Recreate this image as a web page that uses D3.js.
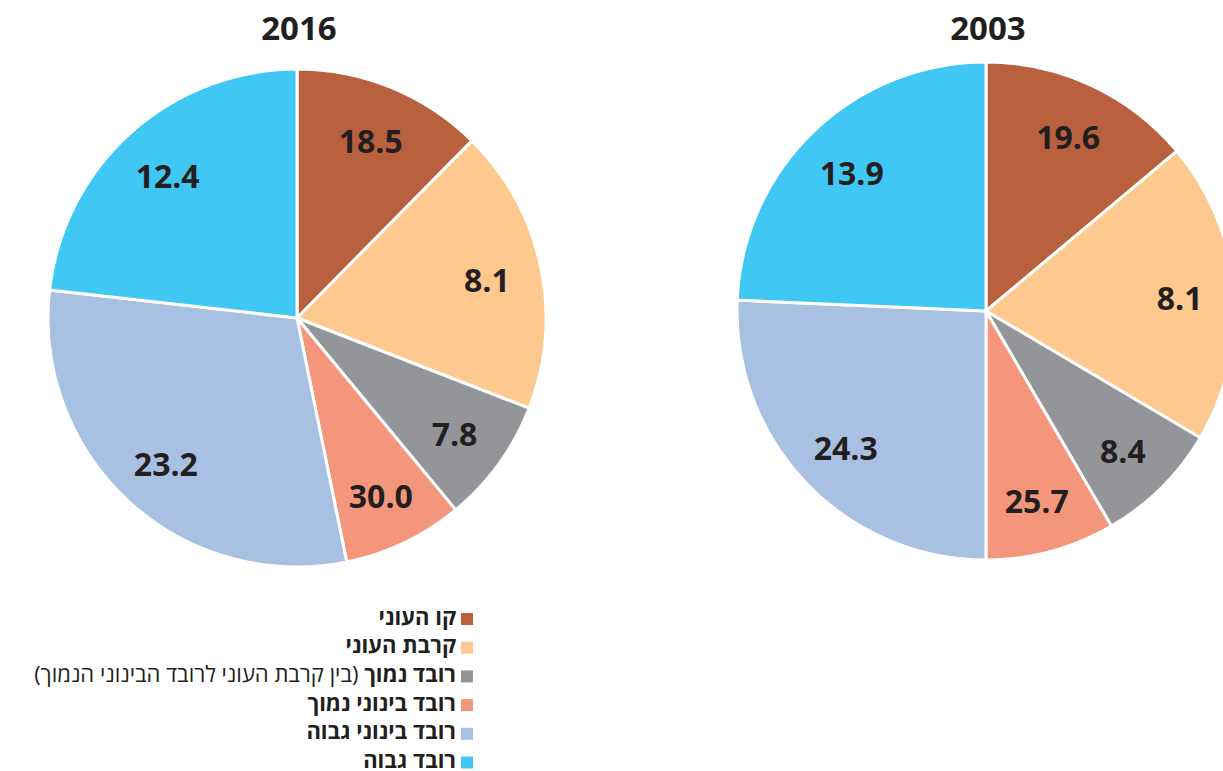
<!DOCTYPE html>
<html>
<head>
<meta charset="utf-8">
<script src="https://cdn.jsdelivr.net/npm/d3@7"></script>
<style>
  body { margin: 0; background: #fff; }
  svg { display: block; font-family: "Open Sans", "DejaVu Sans", sans-serif; }
</style>
</head>
<body>
<svg width="1223" height="771"></svg>
<script>
// slice order, clockwise from 12 o'clock
const categories = ['קו העוני', 'קרבת העוני', 'רובד נמוך', 'רובד בינוני נמוך', 'רובד בינוני גבוה', 'רובד גבוה'];
const colors = ['#b9613f', '#fec98f', '#949599', '#f4967b', '#a8c0e2', '#40c7f4'];
const years = ['2016', '2003'];
const values2016 = [12.4, 18.5, 8.1, 7.8, 30.0, 23.2];
const values2003 = [13.9, 19.6, 8.1, 8.4, 25.7, 24.3];
// the source prints each slice with the next slice's value
const labelShift = 1;
const legendNote = '(בין קרבת העוני לרובד הבינוני הנמוך)';

const svg = d3.select('svg');
const radius = 249;

const pie = d3.pie().sort(null).value(d => d);
const arc = d3.arc().innerRadius(0).outerRadius(radius);
const labelArc = d3.arc().innerRadius(radius * 0.78).outerRadius(radius * 0.78);

function drawPie(values, year, cx, cy) {
  const g = svg.append('g').attr('transform', `translate(${cx},${cy})`);
  const arcs = pie(values);

  g.selectAll('path')
    .data(arcs)
    .join('path')
      .attr('d', arc)
      .attr('fill', (d, i) => colors[i])
      .attr('stroke', '#fff')
      .attr('stroke-width', 3)
      .attr('stroke-linejoin', 'round');

  g.selectAll('text.val')
    .data(arcs)
    .join('text')
      .attr('class', 'val')
      .attr('transform', d => `translate(${labelArc.centroid(d)})`)
      .attr('text-anchor', 'middle')
      .attr('dy', '0.45em')
      .attr('font-size', 32)
      .attr('font-weight', 700)
      .attr('fill', '#231f20')
      .text((d, i) => values[(i + labelShift) % values.length].toFixed(1));

  svg.append('text')
    .attr('x', cx + 2)
    .attr('y', 40)
    .attr('text-anchor', 'middle')
    .attr('font-size', 33)
    .attr('font-weight', 700)
    .attr('fill', '#231f20')
    .text(year);
}

drawPie(values2016, years[0], 297, 318);
drawPie(values2003, years[1], 986, 311);

// legend
const legend = svg.append('g').attr('transform', 'translate(0,619)');
const row = legend.selectAll('g')
  .data(categories)
  .join('g')
    .attr('transform', (d, i) => `translate(0,${i * 28.7})`);

row.append('rect')
  .attr('x', 461)
  .attr('y', -6)
  .attr('width', 12)
  .attr('height', 12)
  .attr('fill', (d, i) => colors[i]);

const label = row.append('text')
  .attr('x', 456)
  .attr('y', 5.5)
  .attr('direction', 'rtl')
  .attr('text-anchor', 'start')
  .attr('font-size', 22)
  .attr('fill', '#231f20');

label.append('tspan')
  .attr('font-weight', 700)
  .text(d => d);

label.filter((d, i) => i === 2)
  .append('tspan')
  .attr('font-weight', 400)
  .text(' ' + legendNote);
</script>
</body>
</html>
